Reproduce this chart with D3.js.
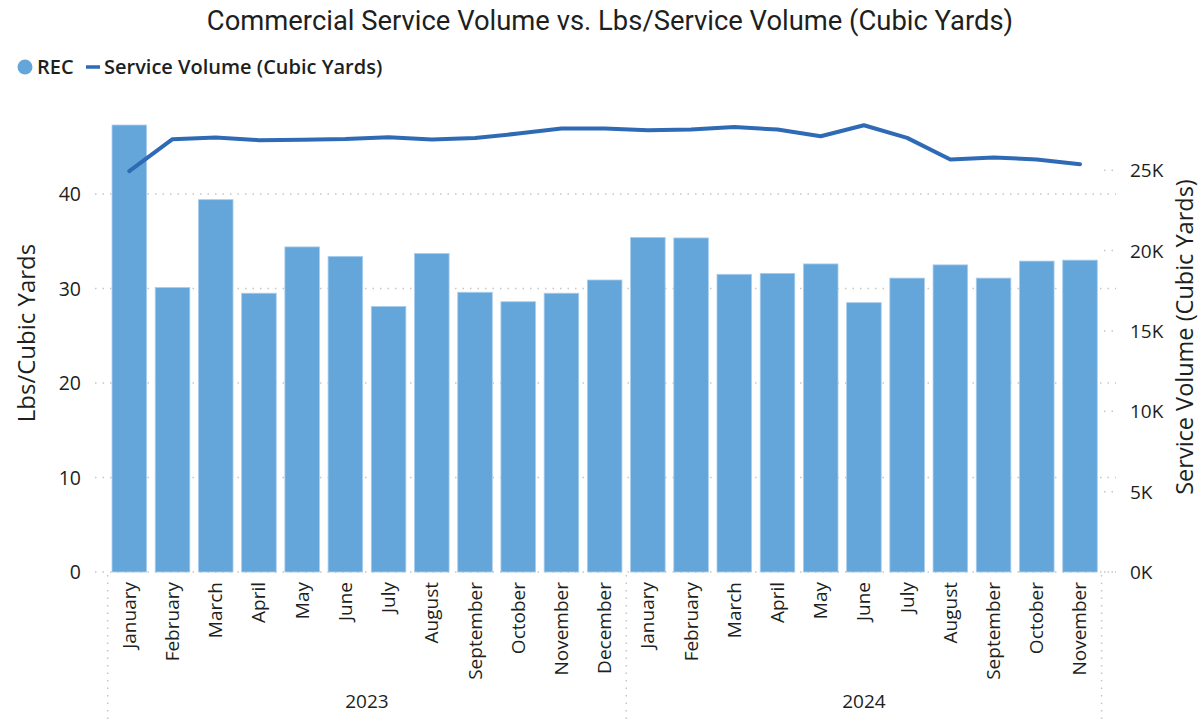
<!DOCTYPE html>
<html>
<head>
<meta charset="utf-8">
<script src="https://cdn.jsdelivr.net/npm/d3@7"></script>
<style>
  html, body { margin: 0; padding: 0; background: #ffffff; }
  svg text { font-family: "Segoe UI", "Open Sans", "Noto Sans", sans-serif; fill: #201f1e; }
</style>
</head>
<body>
<svg id="chart" width="1203" height="721"></svg>
<script>
// Monthly commercial service data, Jan 2023 – Nov 2024
const years = ["2023", "2024"];
const months2023 = ["January","February","March","April","May","June","July","August","September","October","November","December"];
const months2024 = ["January","February","March","April","May","June","July","August","September","October","November"];

// Lbs per cubic yard (bars, left axis)
const rec2023 = [47.3, 30.1, 39.4, 29.5, 34.4, 33.4, 28.1, 33.7, 29.6, 28.6, 29.5, 30.9];
const rec2024 = [35.4, 35.35, 31.5, 31.6, 32.6, 28.5, 31.1, 32.5, 31.1, 32.9, 33.0];

// Service volume in cubic yards (line, right axis)
const vol2023 = [24940, 26930, 27030, 26870, 26900, 26940, 27050, 26910, 27000, 27280, 27600, 27600];
const vol2024 = [27490, 27530, 27690, 27530, 27110, 27800, 27010, 25670, 25790, 25670, 25370];

const leftTicks = [0, 10, 20, 30, 40];
const rightTicks = [0, 5000, 10000, 15000, 20000, 25000];

const rows = [
  ...months2023.map((m, i) => ({ year: years[0], month: m, rec: rec2023[i], vol: vol2023[i] })),
  ...months2024.map((m, i) => ({ year: years[1], month: m, rec: rec2024[i], vol: vol2024[i] }))
];
rows.forEach((d, i) => d.idx = i);

const barColor = "#64a6d9";
const lineColor = "#2f6bb5";
const gridColor = "#c8c6c4";

const svg = d3.select("#chart");

const plotLeft = 107.7, plotRight = 1101.6, plotTop = 99.5, plotBottom = 572;

const x = d3.scaleBand()
  .domain(rows.map(d => d.idx))
  .range([plotLeft, plotRight])
  .paddingInner(0.2)
  .paddingOuter(0.1);

const yL = d3.scaleLinear().domain([0, 50]).range([plotBottom, plotTop]);
const yR = d3.scaleLinear().domain([0, 29400]).range([plotBottom, plotTop]);

// Title
svg.append("text")
  .attr("x", 610).attr("y", 30)
  .attr("text-anchor", "middle")
  .style("font-family", "'Liberation Sans Narrow', 'Roboto', 'Open Sans', sans-serif")
  .style("font-size", "27.4px")
  .text("Commercial Service Volume vs. Lbs/Service Volume (Cubic Yards)");

// Legend
const legend = svg.append("g");
legend.append("circle").attr("cx", 25).attr("cy", 67).attr("r", 7.5).attr("fill", barColor);
legend.append("text").attr("x", 37).attr("y", 74)
  .style("font-size", "20px").style("font-weight", 600).text("REC");
legend.append("line").attr("x1", 86).attr("x2", 100).attr("y1", 67).attr("y2", 67)
  .attr("stroke", lineColor).attr("stroke-width", 3.5);
legend.append("text").attr("x", 104).attr("y", 74)
  .style("font-size", "20px").style("font-weight", 600).text("Service Volume (Cubic Yards)");

// Left axis gridlines (dotted)
const grid = svg.append("g");
grid.selectAll("line.h")
  .data(leftTicks)
  .join("line")
  .attr("x1", 95).attr("x2", 1116)
  .attr("y1", d => yL(d)).attr("y2", d => yL(d))
  .attr("stroke", gridColor).attr("stroke-width", 1.5)
  .attr("stroke-dasharray", "1.5,6");

// Short dotted marks beside right axis ticks
grid.selectAll("line.r")
  .data(rightTicks)
  .join("line")
  .attr("x1", 1104).attr("x2", 1117)
  .attr("y1", d => yR(d)).attr("y2", d => yR(d))
  .attr("stroke", gridColor).attr("stroke-width", 1.5)
  .attr("stroke-dasharray", "1.5,6");

// Year group separators below the axis
const groupEdges = [plotLeft, x(months2023.length) - x.step() * x.paddingInner() / 2, plotRight];
grid.selectAll("line.v")
  .data(groupEdges)
  .join("line")
  .attr("x1", d => d).attr("x2", d => d)
  .attr("y1", plotBottom + 3).attr("y2", 721)
  .attr("stroke", gridColor).attr("stroke-width", 1.5)
  .attr("stroke-dasharray", "1.5,6");

// Bars
svg.append("g")
  .selectAll("rect")
  .data(rows)
  .join("rect")
  .attr("x", d => x(d.idx))
  .attr("width", x.bandwidth())
  .attr("y", d => yL(d.rec))
  .attr("height", d => yL(0) - yL(d.rec))
  .attr("fill", barColor)
  .attr("stroke", "#a8cdee")
  .attr("stroke-width", 0.8);

// Line
const line = d3.line()
  .x(d => x(d.idx) + x.bandwidth() / 2)
  .y(d => yR(d.vol));
svg.append("path")
  .datum(rows)
  .attr("d", line)
  .attr("fill", "none")
  .attr("stroke", lineColor)
  .attr("stroke-width", 4)
  .attr("stroke-linejoin", "round")
  .attr("stroke-linecap", "round");

// Left axis
const leftAxis = svg.append("g")
  .attr("transform", `translate(${81},0)`)
  .call(d3.axisLeft(yL).tickValues(leftTicks).tickSize(0).tickPadding(0));
leftAxis.select(".domain").remove();
leftAxis.selectAll("text").style("font-size", "19.5px").attr("dy", "0.35em")
  .style("font-family", "'Segoe UI', 'Open Sans', sans-serif").attr("fill", "#201f1e");

// Right axis
const rightAxis = svg.append("g")
  .attr("transform", `translate(${1130},0)`)
  .call(d3.axisRight(yR).tickValues(rightTicks).tickSize(0).tickPadding(0)
    .tickFormat(d => (d / 1000) + "K"));
rightAxis.select(".domain").remove();
rightAxis.selectAll("text").style("font-size", "19px").attr("dy", "0.35em")
  .style("font-family", "'Segoe UI', 'Open Sans', sans-serif").attr("fill", "#201f1e");

// Axis titles
svg.append("text")
  .attr("transform", `translate(35,${333}) rotate(-90)`)
  .attr("text-anchor", "middle")
  .style("font-size", "24px")
  .text("Lbs/Cubic Yards");
svg.append("text")
  .attr("transform", `translate(1193,${337}) rotate(-90)`)
  .attr("text-anchor", "middle")
  .style("font-size", "23.5px")
  .text("Service Volume (Cubic Yards)");

// Month labels (rotated)
svg.append("g")
  .selectAll("text")
  .data(rows)
  .join("text")
  .attr("transform", d => `translate(${x(d.idx) + x.bandwidth() / 2 + 6.5},${plotBottom + 10}) rotate(-90)`)
  .attr("text-anchor", "end")
  .style("font-size", "19px")
  .text(d => d.month);

// Year labels centred under each group
svg.append("g")
  .selectAll("text")
  .data(years)
  .join("text")
  .attr("x", (d, i) => (groupEdges[i] + groupEdges[i + 1]) / 2)
  .attr("y", 708)
  .attr("text-anchor", "middle")
  .style("font-size", "19px")
  .text(d => d);
</script>
</body>
</html>
